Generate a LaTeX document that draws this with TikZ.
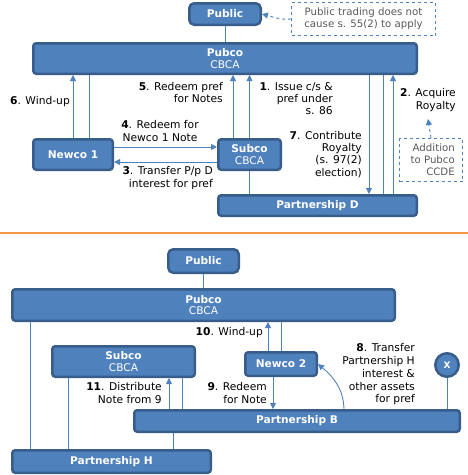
\documentclass[tikz,border=0pt]{standalone}
\usepackage{fontspec}
\setmainfont{DejaVu Sans}
\usetikzlibrary{arrows.meta}
\definecolor{bfill}{HTML}{4F81BD}
\definecolor{bdr}{HTML}{385D8A}
\definecolor{conn}{HTML}{4F81BD}
\definecolor{notegrey}{HTML}{595959}
\definecolor{orangeline}{HTML}{F79646}
\tikzset{
  box/.style={draw=bdr, fill=bfill, line width=2.5pt, rounded corners=3pt, text=white,
    font=\fontsize{10.6}{11.5}\selectfont\bfseries, inner sep=0pt, align=center},
  pubbox/.style={box, rounded corners=5pt},
  notebox/.style={draw=conn, dashed, line width=0.8pt, text=notegrey, inner sep=0pt,
    font=\fontsize{10.2}{12}\selectfont},
  lbl/.style={text=black, inner sep=0pt, font=\fontsize{10.7}{12.2}\selectfont},
  ln/.style={draw=conn, line width=0.9pt},
  arr/.style={ln, -{Triangle[length=6pt,width=6pt]}},
  dasharr/.style={draw=conn, line width=0.9pt, dashed, -{Triangle[length=6pt,width=6pt]}},
}
\newcommand{\sub}[1]{{\mdseries #1}}
\begin{document}
\begin{tikzpicture}[x=1pt,y=-1pt]
\useasboundingbox (0,0) rectangle (468,475);
% ---------------- top part ----------------
\node[pubbox, minimum width=71.5pt, minimum height=21.5pt] (Public1) at (225,14) {Public};
\node[box, minimum width=383.5pt, minimum height=30.5pt] (Pubco1) at (225,58.5) {Pubco\\\sub{CBCA}};
\node[box, minimum width=79.5pt, minimum height=30.5pt] (Newco1) at (73,154.5) {Newco 1};
\node[box, minimum width=62.5pt, minimum height=30.5pt] (Subco1) at (249.5,154.5) {Subco\\\sub{CBCA}};
\node[box, minimum width=198.5pt, minimum height=20.5pt] (PD) at (317.5,205.5) {Partnership D};
\node[notebox, minimum width=144pt, minimum height=33pt, align=center] (Note1) at (363.5,19) {Public trading does not\\cause s. 55(2) to apply};
\node[notebox, minimum width=63pt, minimum height=43pt] (Add) at (431,160) {};
\node[lbl, text=notegrey, anchor=east, align=right, font=\fontsize{10.2}{12}\selectfont] (AddT) at (455,160) {Addition\\to Pubco\\CCDE};

\draw[ln] (Public1.south) -- (Public1.south |- Pubco1.north);
\draw[dasharr] (Note1.west) to[out=185,in=-15] (Public1.east);
\coordinate (addtop) at (Add.north);
\coordinate (addtip) at (428,119);
\draw[dasharr] (addtop) -- (addtip);

% Newco 1 to Pubco
\coordinate (n1a) at (Newco1.north);
\coordinate (n1b) at ([xshift=16pt]Newco1.north);
\draw[arr] (n1a) -- (n1a |- Pubco1.south);
\draw[ln] (n1b) -- (n1b |- Pubco1.south);
% Subco to Pubco
\coordinate (s1a) at ([xshift=-16.5pt]Subco1.north);
\coordinate (s1b) at (Subco1.north);
\draw[arr] (s1a) -- (s1a |- Pubco1.south);
\draw[arr] (s1b) -- (s1b |- Pubco1.south);
\draw[ln] (Subco1.south) -- (Subco1.south |- PD.north);
% Newco 1 <-> Subco
\coordinate (n1e) at ([yshift=7.5pt]Newco1.east);
\coordinate (n1f) at ([yshift=-7.5pt]Newco1.east);
\draw[arr] (n1e) -- (n1e -| Subco1.west);
\coordinate (s1w) at (n1f -| Subco1.west);
\draw[arr] (s1w) -- (n1f);
% Pubco <-> Partnership D
\coordinate (pd7) at ([xshift=51.5pt]PD.north);
\coordinate (pdl) at ([xshift=65.5pt]PD.north);
\coordinate (pd2) at ([xshift=75.5pt]PD.north);
\coordinate (pb7) at (pd7 |- Pubco1.south);
\draw[arr] (pb7) -- (pd7);
\draw[ln] (pdl) -- (pdl |- Pubco1.south);
\draw[arr] (pd2) -- (pd2 |- Pubco1.south);

\node[lbl, anchor=east] (L6) at (70,102) {\textbf{6}. Wind-up};
\node[lbl, anchor=east, align=right] (L5) at (223,92.5) {\textbf{5}. Redeem pref\\for Notes};
\node[lbl, anchor=east, align=right] (L1) at (333,98.5) {\textbf{1}. Issue c/s \&\\pref under\\s. 86};
\node[lbl, anchor=east, align=right] (L2) at (456,100) {\textbf{2}. Acquire\\Royalty};
\node[lbl, align=center] (L4) at (160,131) {\textbf{4}. Redeem for\\Newco 1 Note};
\node[lbl, anchor=east, align=right] (L3) at (213,178) {\textbf{3}. Transfer P/p D\\interest for pref};
\node[lbl, anchor=east, align=right] (L7) at (362,154.5) {\textbf{7}. Contribute\\Royalty\\(s. 97(2)\\election)};

% separator
\draw[orangeline, line width=2pt] (0,233) -- (468,233);

% ---------------- bottom part ----------------
\node[pubbox, minimum width=70.5pt, minimum height=23.5pt] (Public2) at (203.5,261) {Public};
\node[box, minimum width=382.5pt, minimum height=31.5pt] (Pubco2) at (203.5,305) {Pubco\\\sub{CBCA}};
\node[box, minimum width=142.5pt, minimum height=30.5pt] (Subco2) at (123.5,361.5) {Subco\\\sub{CBCA}};
\node[box, minimum width=71.5pt, minimum height=23.5pt] (Newco2) at (281,364) {Newco 2};
\node[box, circle, minimum size=23.5pt, font=\fontsize{9}{10}\selectfont\bfseries] (X) at (447,365) {X};
\node[box, minimum width=325.5pt, minimum height=21.5pt] (PB) at (297,421) {Partnership B};
\node[box, minimum width=198.5pt, minimum height=22.5pt] (PH) at (111.5,461.5) {Partnership H};

\draw[ln] (Public2.south) -- (Public2.south |- Pubco2.north);
\coordinate (ph1) at ([xshift=-81.5pt]PH.north);
\draw[ln] (ph1 |- Pubco2.south) -- (ph1);
\coordinate (n2a) at ([xshift=-13pt]Newco2.north);
\coordinate (n2b) at (Newco2.north);
\draw[arr] (n2a) -- (n2a |- Pubco2.south);
\draw[ln] (n2b) -- (n2b |- Pubco2.south);
\coordinate (s2a) at ([xshift=-55.5pt]Subco2.south);
\draw[ln] (s2a) -- (s2a |- PH.north);
\coordinate (s2b) at ([xshift=45.5pt]Subco2.south);
\coordinate (s2c) at ([xshift=58.5pt]Subco2.south);
\coordinate (pb11) at (s2b |- PB.north);
\draw[arr] (pb11) -- (s2b);
\draw[ln] (s2c) -- (s2c |- PB.north);
\coordinate (pbh) at ([xshift=-124pt]PB.south);
\draw[ln] (pbh) -- (pbh |- PH.north);
\coordinate (n2s) at ([xshift=-8pt]Newco2.south);
\draw[arr] (n2s) -- (n2s |- PB.north);
\coordinate (pb8) at ([xshift=47pt]PB.north);
\draw[arr] (pb8) to[out=92,in=-40] (Newco2.east);
\draw[ln] (X.south) -- (X.south |- PB.north);

\node[lbl, anchor=east] (L10) at (263,333) {\textbf{10}. Wind-up};
\node[lbl, anchor=east, align=right] (L11) at (162,393) {\textbf{11}. Distribute\\Note from 9};
\node[lbl, anchor=east, align=right] (L9) at (267,393) {\textbf{9}. Redeem\\for Note};
\node[lbl, anchor=east, align=right, font=\fontsize{10.7}{12.75}\selectfont] (L8) at (415,374.5) {\textbf{8}. Transfer\\Partnership H\\interest \&\\other assets\\for pref};
\end{tikzpicture}
\end{document}
